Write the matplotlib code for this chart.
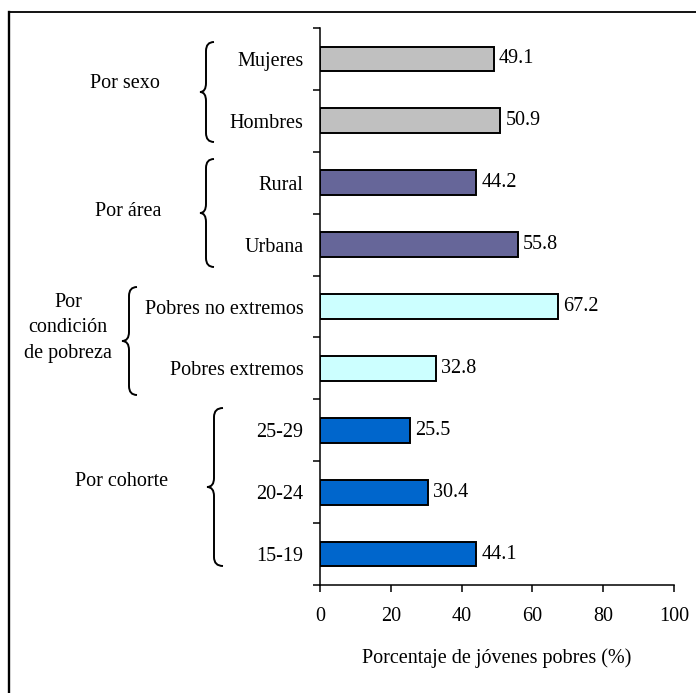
import numpy as np
import matplotlib
matplotlib.use('Agg')
import matplotlib.pyplot as plt
from matplotlib.path import Path
from matplotlib.patches import PathPatch

plt.rcParams['font.family'] = ['Liberation Serif', 'DejaVu Serif']
FS = 14.5

# datos
categorias = ['Mujeres', 'Hombres', 'Rural', 'Urbana', 'Pobres no extremos',
              'Pobres extremos', '25-29', '20-24', '15-19']
valores = [49.1, 50.9, 44.2, 55.8, 67.2, 32.8, 25.5, 30.4, 44.1]
colores = ['#C0C0C0', '#C0C0C0', '#666699', '#666699', '#CCFFFF', '#CCFFFF',
           '#0066CC', '#0066CC', '#0066CC']
x_ticks = [0, 20, 40, 60, 80, 100]
x_titulo = 'Porcentaje de jóvenes pobres (%)'

# grupos: texto, (x del texto, y del texto), llave (x punta, x recta, x extremos, y arriba, y punta, y abajo)
grupos = [
    ('Por sexo', (125, 84), (200, 206, 214, 42, 92, 142)),
    ('Por área', (128, 211), (200, 206, 214, 159, 213, 267)),
    ('Por\ncondición\nde pobreza', (68, 328), (122, 129, 137, 287, 341, 395)),
    ('Por cohorte', (122, 481), (207, 214, 223, 408, 487, 566)),
]

W, H = 696, 693
fig = plt.figure(figsize=(W / 100, H / 100), dpi=100)
ax = fig.add_axes([320 / W, 108 / H, 354 / W, 557 / H])

y = np.arange(len(categorias))
ax.barh(y, valores, height=0.4, color=colores, edgecolor='black', linewidth=1.4, zorder=3)
for yi, v in zip(y, valores):
    ax.text(v + 1.5, yi, f'{v:.1f}', va='center', ha='left', fontsize=FS)

ax.set_xlim(0, 100)
ax.set_ylim(len(categorias) - 0.5, -0.5)
ax.set_xticks(x_ticks)
ax.set_xticklabels([str(t) for t in x_ticks], fontsize=FS)
ax.set_yticks(y)
ax.set_yticklabels(categorias, fontsize=FS)
ax.set_yticks(np.arange(len(categorias) + 1) - 0.5, minor=True)
ax.tick_params(axis='y', which='major', length=0, pad=12)
ax.tick_params(axis='y', which='minor', length=5, width=1.1, direction='out')
ax.tick_params(axis='x', length=5, width=1.1, direction='out', pad=11)
ax.set_xlabel(x_titulo, fontsize=FS, labelpad=16)
for s in ['top', 'right']:
    ax.spines[s].set_visible(False)
for s in ['left', 'bottom']:
    ax.spines[s].set_linewidth(1.1)

# capa en pixeles para marco, llaves y nombres de grupo
ov = fig.add_axes([0, 0, 1, 1])
ov.set_xlim(0, W)
ov.set_ylim(H, 0)
ov.axis('off')
ov.plot([9, W], [12, 12], color='black', lw=1.3)
ov.plot([9, 9], [12, H], color='black', lw=1.7)


def llave(xt, xm, xr, yt, yp, yb, r=9):
    verts = [(xr, yt), (xm, yt), (xm, yt + r),
             (xm, yp - r), (xm, yp), (xt, yp),
             (xm, yp), (xm, yp + r),
             (xm, yb - r), (xm, yb), (xr, yb)]
    codes = [Path.MOVETO, Path.CURVE3, Path.CURVE3,
             Path.LINETO, Path.CURVE3, Path.CURVE3,
             Path.CURVE3, Path.CURVE3,
             Path.LINETO, Path.CURVE3, Path.CURVE3]
    ov.add_patch(PathPatch(Path(verts, codes), fill=False, lw=1.4, edgecolor='black'))


for texto, (tx, ty), b in grupos:
    ov.text(tx, ty, texto, ha='center', va='center', fontsize=FS, linespacing=1.45)
    llave(*b)

fig.savefig('out.png', dpi=100)
